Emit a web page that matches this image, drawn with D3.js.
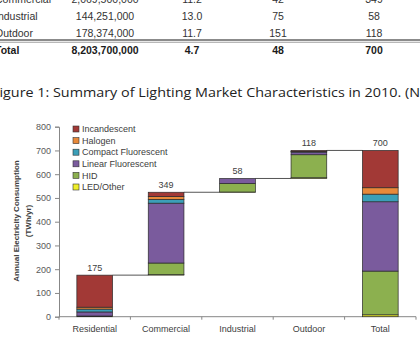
<!DOCTYPE html>
<html>
<head>
<meta charset="utf-8">
<script src="https://cdn.jsdelivr.net/npm/d3@7"></script>
<style>
body { margin: 0; background: #fff; overflow: hidden; }
svg { display: block; font-family: "Liberation Sans", Arial, sans-serif; }
</style>
</head>
<body>
<script>
// table rows still visible above the caption
var tableRows = ["Commercial", "Industrial", "Outdoor", "Total"];
var tableInstalled = ["2,069,500,000", "144,251,000", "178,374,000", "8,203,700,000"];
var tableHours = ["11.2", "13.0", "11.7", "4.7"];
var tableWatts = ["42", "75", "151", "48"];
var tableTWh = ["349", "58", "118", "700"];

var captionText = "Figure 1: Summary of Lighting Market Characteristics in 2010. (N";

// chart data (TWh/yr)
var categories = ["Residential", "Commercial", "Industrial", "Outdoor", "Total"];
var lampTypes = ["Incandescent", "Halogen", "Compact Fluorescent", "Linear Fluorescent", "HID", "LED/Other"];
var incandescent = [135, 18, 0, 4, 157];
var halogen = [8, 12, 0, 1, 27];
var compactFluorescent = [12, 16, 0, 2, 32];
var linearFluorescent = [17, 252, 21, 11, 292];
var hid = [0, 49, 36, 97, 184];
var ledOther = [3, 2, 1, 3, 8];
var barBases = [0, 175, 524, 582, 0];
var barLabels = [175, 349, 58, 118, 700];
var yTicks = [0, 100, 200, 300, 400, 500, 600, 700, 800];

var colors = {
	"Incandescent": "#a23936",
	"Halogen": "#e8893a",
	"Compact Fluorescent": "#3b9fb8",
	"Linear Fluorescent": "#7a5b9d",
	"HID": "#8cb04f",
	"LED/Other": "#eeee2a"
};

var width = 420, height = 340;
var svg = d3.select("body").append("svg")
	.attr("width", width)
	.attr("height", height);

// ---- table fragment ----
var rowBaseline = d3.scaleLinear().domain([0, 3]).range([2.6, 54]);
var colX = [105, 192, 278, 374];
var tableCols = [tableInstalled, tableHours, tableWatts, tableTWh];

var rows = svg.append("g").selectAll("g")
	.data(tableRows)
	.enter().append("g")
	.attr("transform", (d, i) => "translate(0," + rowBaseline(i) + ")")
	.style("font-size", "10.5px")
	.style("font-weight", d => d == "Total" ? "bold" : "normal")
	.style("fill", d => d == "Total" ? "#1a1a1a" : "#333");

rows.append("text")
	.attr("x", -5)
	.text(d => d);

tableCols.forEach(function(col, c) {
	rows.append("text")
		.attr("x", colX[c])
		.attr("text-anchor", "middle")
		.text((d, i) => col[i]);
});

// double rule above Total
svg.append("rect").attr("x", 0).attr("y", 39.2).attr("width", width).attr("height", 1.6).style("fill", "#6f6f6f");
svg.append("rect").attr("x", 0).attr("y", 41.8).attr("width", width).attr("height", 0.8).style("fill", "#8a8a8a");

// caption
svg.append("text")
	.attr("x", -8)
	.attr("y", 97)
	.attr("textLength", 428)
	.attr("lengthAdjust", "spacingAndGlyphs")
	.style("font-family", "'Open Sans', sans-serif")
	.style("font-size", "12.5px")
	.style("fill", "#222")
	.text(captionText);

// ---- waterfall chart ----
var yScale = d3.scaleLinear()
	.domain([0, 800])
	.range([316.7, 126.7]);

var xScale = d3.scaleBand()
	.domain(categories)
	.range([59, 416])
	.paddingInner(0.5)
	.paddingOuter(0.25);

var series = [incandescent, halogen, compactFluorescent, linearFluorescent, hid, ledOther];
var table = categories.map(function(c, i) {
	var row = {category: c, base: barBases[i]};
	lampTypes.forEach((t, k) => row[t] = series[k][i]);
	return row;
});

// stack from bottom: LED/Other first, Incandescent on top
var stack = d3.stack().keys(lampTypes.slice().reverse());
var layers = stack(table);

var axisColor = "#878787";

// y axis
var yAxis = d3.axisLeft(yScale)
	.tickValues(yTicks)
	.tickSize(4)
	.tickPadding(4);

var yG = svg.append("g")
	.attr("transform", "translate(59,0)")
	.call(yAxis);
yG.select(".domain").style("stroke", axisColor);
yG.selectAll(".tick line").style("stroke", axisColor);
yG.selectAll(".tick text")
	.style("font-family", "'Liberation Sans', Arial, sans-serif")
	.style("font-size", "9px")
	.style("fill", "#595959");

// x axis line with ticks on band boundaries
var step = xScale.step();
var xG = svg.append("g");
xG.append("line")
	.attr("x1", 59).attr("x2", 416)
	.attr("y1", yScale(0)).attr("y2", yScale(0))
	.style("stroke", axisColor);
xG.selectAll(".bound")
	.data(categories.concat(["end"]))
	.enter().append("line")
	.attr("x1", (d, i) => 59 + i * step)
	.attr("x2", (d, i) => 59 + i * step)
	.attr("y1", yScale(0))
	.attr("y2", yScale(0) + 3)
	.style("stroke", axisColor);
xG.selectAll(".cat")
	.data(categories)
	.enter().append("text")
	.attr("x", d => xScale(d) + xScale.bandwidth() / 2)
	.attr("y", 332)
	.attr("text-anchor", "middle")
	.style("font-size", "9px")
	.style("fill", "#404040")
	.text(d => d);

// y axis title
var yTitle = svg.append("g")
	.attr("transform", "translate(0,221) rotate(-90)")
	.attr("text-anchor", "middle")
	.style("font-size", "8px")
	.style("font-weight", "bold")
	.style("fill", "#404040");
yTitle.append("text").attr("y", 18.5).text("Annual Electricity Consumption");
yTitle.append("text").attr("y", 30.5).text("(TWh/yr)");

// connectors between floating bars
svg.append("g")
	.selectAll("line")
	.data(categories.slice(0, 4))
	.enter().append("line")
	.attr("x1", d => xScale(d) + xScale.bandwidth())
	.attr("x2", (d, i) => xScale(categories[i + 1]))
	.attr("y1", (d, i) => yScale(barBases[i] + barLabels[i]))
	.attr("y2", (d, i) => yScale(barBases[i] + barLabels[i]))
	.style("stroke", "#555")
	.style("stroke-width", 1);

// bar segments
svg.append("g")
	.selectAll("g")
	.data(layers)
	.enter().append("g")
	.style("fill", d => colors[d.key])
	.selectAll("rect")
	.data(d => d.filter(p => p[1] - p[0] > 0))
	.enter().append("rect")
	.attr("x", p => xScale(p.data.category))
	.attr("y", p => yScale(p.data.base + p[1]))
	.attr("width", xScale.bandwidth())
	.attr("height", p => yScale(p.data.base + p[0]) - yScale(p.data.base + p[1]))
	.style("stroke", "#2a2a2a")
	.style("stroke-width", 0.7);

// value labels
svg.append("g")
	.selectAll("text")
	.data(categories)
	.enter().append("text")
	.attr("x", d => xScale(d) + xScale.bandwidth() / 2)
	.attr("y", (d, i) => yScale(barBases[i] + barLabels[i]) - 4)
	.attr("text-anchor", "middle")
	.style("font-size", "9px")
	.style("fill", "#404040")
	.text((d, i) => barLabels[i]);

// legend
var legend = svg.append("g")
	.selectAll("g")
	.data(lampTypes)
	.enter().append("g")
	.attr("transform", (d, i) => "translate(73," + (129 + i * 11.6) + ")");
legend.append("rect")
	.attr("x", 0).attr("y", -3)
	.attr("width", 6).attr("height", 6)
	.style("fill", d => colors[d])
	.style("stroke", "#333")
	.style("stroke-width", 0.6);
legend.append("text")
	.attr("x", 9)
	.attr("dy", "0.35em")
	.style("font-size", "9px")
	.style("fill", "#404040")
	.text(d => d);
</script>
</body>
</html>
